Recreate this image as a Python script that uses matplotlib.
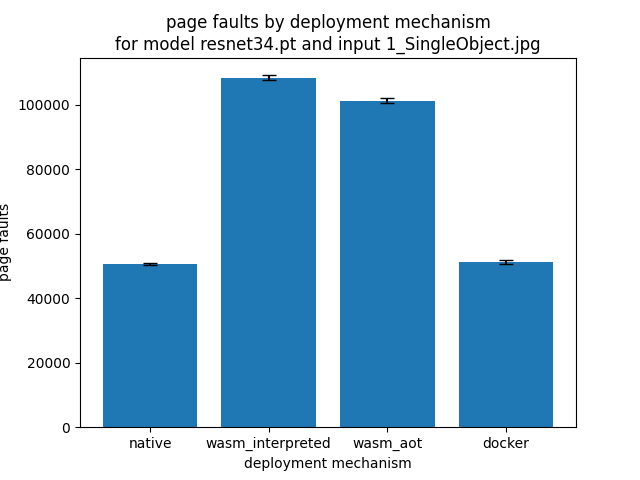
import matplotlib
matplotlib.use("Agg")
import matplotlib.pyplot as plt

mechanisms = ["native", "wasm_interpreted", "wasm_aot", "docker"]
page_faults = [50570, 108340, 101240, 51190]
errors = [300, 750, 700, 700]

fig, ax = plt.subplots(figsize=(6.4, 4.8), dpi=100)
ax.bar(mechanisms, page_faults, yerr=errors, capsize=5)
ax.set_xlabel("deployment mechanism")
ax.set_ylabel("page faults")
ax.set_title("page faults by deployment mechanism\nfor model resnet34.pt and input 1_SingleObject.jpg")
fig.savefig("out.png")
